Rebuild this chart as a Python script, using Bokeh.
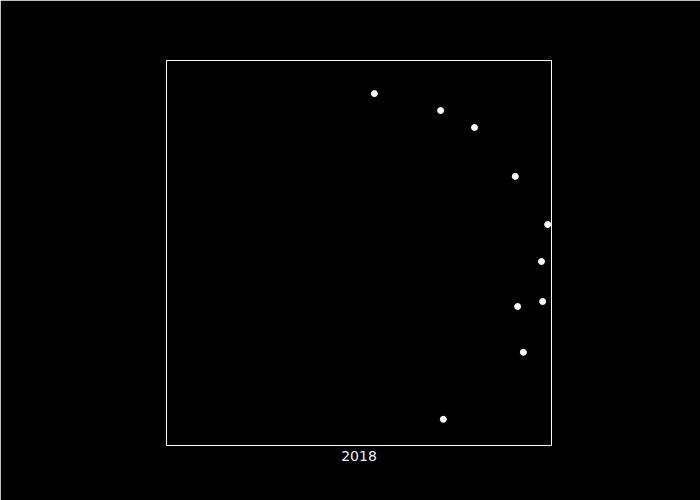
from bokeh.plotting import figure
from bokeh.models import Range1d, FixedTicker
from bokeh.embed import file_html
from bokeh.resources import INLINE

x_vals = [0.540, 0.712, 0.800, 0.906, 0.990, 0.974, 0.912, 0.977, 0.927, 0.719]
y_vals = [0.914, 0.870, 0.826, 0.699, 0.574, 0.478, 0.361, 0.374, 0.242, 0.068]
tick_label = "2018"

p = figure(width=700, height=500, output_backend="svg", toolbar_location=None,
           x_range=Range1d(0, 1), y_range=Range1d(0, 1),
           min_border_left=166, min_border_right=149, min_border_top=60, min_border_bottom=55)
p.background_fill_color = "black"
p.border_fill_color = "black"
p.outline_line_color = "white"
p.outline_line_width = 1
p.grid.visible = False
p.yaxis.visible = False

p.xaxis.ticker = FixedTicker(ticks=[0.5])
p.xaxis.major_label_overrides = {0.5: tick_label}
p.xaxis.major_tick_line_color = None
p.xaxis.major_tick_out = 0
p.xaxis.major_tick_in = 0
p.xaxis.minor_tick_line_color = None
p.xaxis.axis_line_color = None
p.xaxis.major_label_text_color = "#f2f2f2"
p.xaxis.major_label_text_font = "DejaVu Sans"
p.xaxis.major_label_text_font_size = "14px"
p.xaxis.major_label_standoff = 5

p.scatter(x_vals, y_vals, size=6, color="white")

open("out.html", "w").write(file_html(p, INLINE))
